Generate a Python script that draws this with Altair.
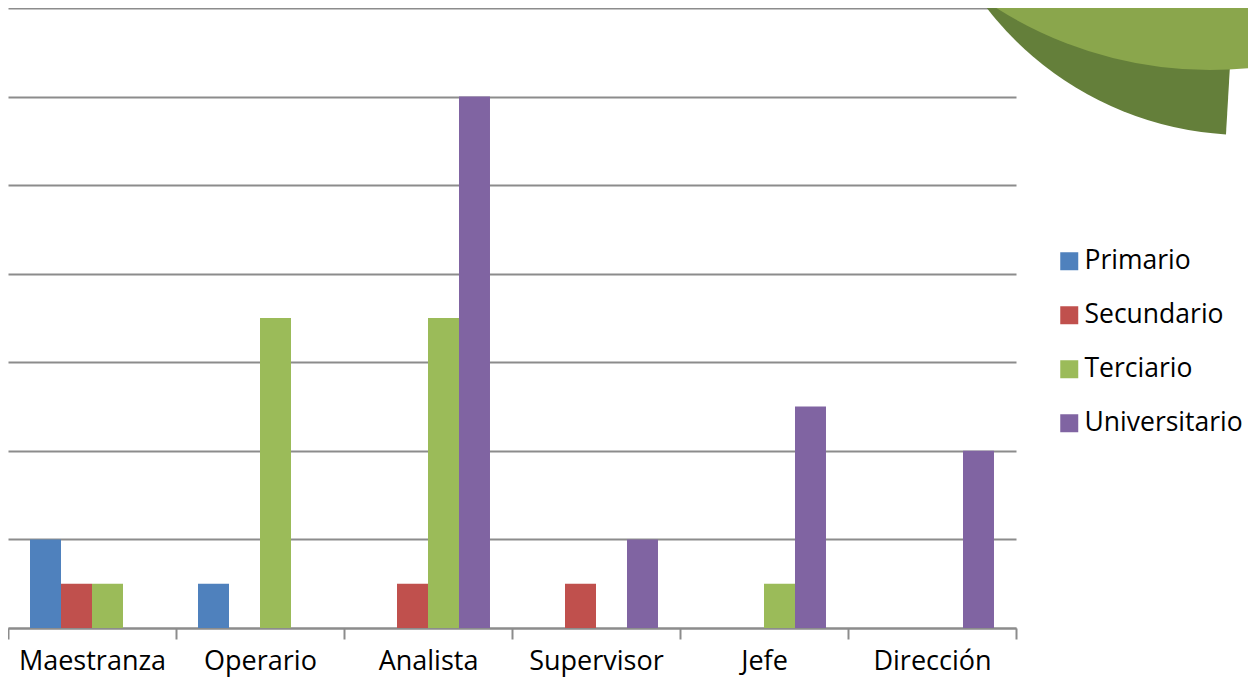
import altair as alt
import pandas as pd

# ---- data ----
categories = ["Maestranza", "Operario", "Analista", "Supervisor", "Jefe", "Dirección"]
series = ["Primario", "Secundario", "Terciario", "Universitario"]
primario = [2, 1, 0, 0, 0, 0]
secundario = [1, 0, 1, 1, 0, 0]
terciario = [1, 7, 7, 0, 1, 0]
universitario = [0, 0, 12, 2, 5, 4]
colors = ["#4F81BD", "#C0504D", "#9BBB59", "#8064A2"]
y_ticks = [0, 2, 4, 6, 8, 10, 12, 14]

rows = []
for s, vals in zip(series, [primario, secundario, terciario, universitario]):
    for c, v in zip(categories, vals):
        rows.append({"Puesto": c, "Nivel": s, "Cantidad": v})
df = pd.DataFrame(rows)

FONT = "Open Sans"
GRID = "#8C8C8C"

bars = alt.Chart(df).transform_filter("datum.Cantidad > 0").mark_bar().encode(
    x=alt.X(
        "Puesto:N",
        sort=categories,
        scale=alt.Scale(domain=categories, paddingInner=0, paddingOuter=0),
        axis=alt.Axis(
            title=None, labelAngle=0, labelFont=FONT, labelFontSize=27,
            labelColor="#000000", domainColor=GRID, domainWidth=2,
            tickColor=GRID, tickWidth=2, tickSize=11, tickBand="extent",
            labelPadding=9, grid=False,
        ),
    ),
    xOffset=alt.XOffset(
        "Nivel:N", sort=series,
        scale=alt.Scale(domain=series, paddingInner=0, paddingOuter=0.71),
    ),
    y=alt.Y(
        "Cantidad:Q",
        scale=alt.Scale(domain=[0, 14], nice=False),
        axis=alt.Axis(
            title=None, values=y_ticks, labels=False, ticks=False,
            domain=False, grid=True, gridColor=GRID, gridWidth=2,
        ),
    ),
    color=alt.Color(
        "Nivel:N", sort=series,
        scale=alt.Scale(domain=series, range=colors),
        legend=alt.Legend(
            title=None, orient="none", legendX=1048, legendY=240,
            symbolType="square", symbolSize=324, symbolStrokeWidth=0,
            symbolOpacity=1, labelFont=FONT, labelFontSize=26.5,
            labelColor="#000000", rowPadding=27, labelOffset=2, padding=0,
            labelLimit=400,
        ),
    ),
)

# decorative fragment of an overlapping 3D pie chart (top-right corner)
deco = pd.DataFrame({"k": [0]})
pie_side = alt.Chart(deco).mark_arc(
    theta=3.2, theta2=4.5, radius=326, color="#647F3A"
).encode(x=alt.value(1237), y=alt.value(-199))
pie_top = alt.Chart(deco).mark_arc(
    theta=3.02, theta2=4.0, radius=399, color="#8AA64C"
).encode(x=alt.value(1202), y=alt.value(-337))

chart = alt.layer(bars, pie_side, pie_top).properties(
    width=1008,
    height=620,
    autosize=alt.AutoSizeParams(type="none"),
    padding={"left": 0, "top": 0, "right": 232, "bottom": 53},
    background="#FFFFFF",
).configure_view(strokeOpacity=0)

chart.save("out.html", embed_options={"renderer": "svg", "actions": False})
